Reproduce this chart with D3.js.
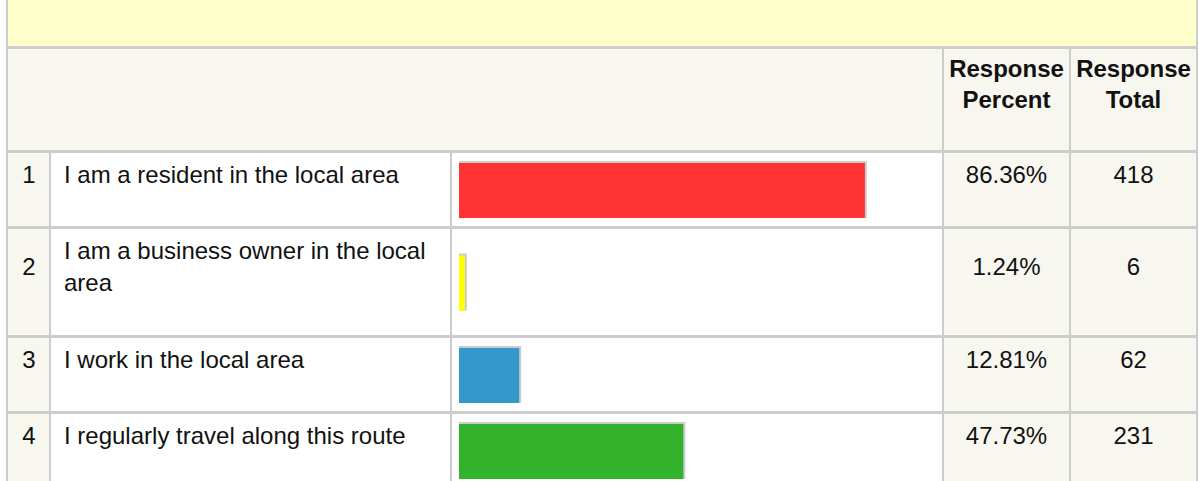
<!DOCTYPE html>
<html>
<head>
<meta charset="utf-8">
<script src="https://cdn.jsdelivr.net/npm/d3@7"></script>
<style>
  body { margin: 0; background: #fff; }
  text { font-family: Arial, "Liberation Sans", sans-serif; fill: #111; }
</style>
</head>
<body>
<div id="chart-container"></div>
<script>
const ids = [1, 2, 3, 4];
const answers = [
  "I am a resident in the local area",
  "I am a business owner in the local area",
  "I work in the local area",
  "I regularly travel along this route",
];
const percents = [86.36, 1.24, 12.81, 47.73];
const totals = [418, 6, 62, 231];
const barColors = ["#ff3333", "#ffff00", "#3399cc", "#33b32c"];
const headerPercent = ["Response", "Percent"];
const headerTotal = ["Response", "Total"];

const width = 1199;
const height = 481;
const border = "#cccccc";
const beige = "#f7f7f0";
const fontSize = 24;

// x of each 2px vertical grid line
const cols = { left: 6, num: 49, text: 450, bar: 942, pct: 1069, right: 1196 };

const svg = d3
  .select("#chart-container")
  .append("svg")
  .attr("width", width)
  .attr("height", height);

const x = d3.scaleLinear().domain([0, 100]).range([0, 470]);

// grid colour behind everything, cells are drawn on top
svg
  .append("rect")
  .attr("x", cols.left)
  .attr("y", 0)
  .attr("width", cols.right + 2 - cols.left)
  .attr("height", height)
  .attr("fill", border);

// yellow title band
svg
  .append("rect")
  .attr("x", cols.left + 2)
  .attr("y", 0)
  .attr("width", cols.right - cols.left - 2)
  .attr("height", 46)
  .attr("fill", "#ffffcc");

// header row
const headTop = 49;
const headBottom = 150;
[
  [cols.left + 2, cols.bar],
  [cols.bar + 2, cols.pct],
  [cols.pct + 2, cols.right],
].forEach(([x0, x1]) => {
  svg
    .append("rect")
    .attr("x", x0)
    .attr("y", headTop)
    .attr("width", x1 - x0)
    .attr("height", headBottom - headTop)
    .attr("fill", beige);
});

const headerText = (lines, cx) => {
  const t = svg
    .append("text")
    .attr("text-anchor", "middle")
    .style("font-size", fontSize + "px")
    .style("font-weight", "bold");
  lines.forEach((l, i) => {
    t.append("tspan")
      .attr("x", cx)
      .attr("y", headTop + 28 + i * 31)
      .text(l);
  });
};
headerText(headerPercent, (cols.bar + 2 + cols.pct) / 2);
headerText(headerTotal, (cols.pct + 2 + cols.right) / 2);

// wrap answer text into lines that fit the text column
const measure = svg.append("text").style("font-size", fontSize + "px");
const wrapWidth = cols.text - 64 - 8;
const wrapped = answers.map((a) => {
  const words = a.split(" ");
  const lines = [];
  let cur = "";
  words.forEach((w) => {
    const test = cur ? cur + " " + w : w;
    measure.text(test);
    if (measure.node().getComputedTextLength() > wrapWidth && cur) {
      lines.push(cur);
      cur = w;
    } else {
      cur = test;
    }
  });
  lines.push(cur);
  return lines;
});
measure.remove();

let rowTop = headBottom + 3;
ids.forEach((id, i) => {
  const lines = wrapped[i];
  const rowH = 73 + 33 * (lines.length - 1);
  const g = svg.append("g");

  const cells = [
    [cols.left + 2, cols.num, beige],
    [cols.num + 2, cols.text, "#ffffff"],
    [cols.text + 2, cols.bar, "#ffffff"],
    [cols.bar + 2, cols.pct, beige],
    [cols.pct + 2, cols.right, beige],
  ];
  cells.forEach(([x0, x1, fill]) => {
    g.append("rect")
      .attr("x", x0)
      .attr("y", rowTop)
      .attr("width", x1 - x0)
      .attr("height", rowH)
      .attr("fill", fill);
  });

  const midY = rowTop + 30 + (lines.length - 1) * 16;

  g.append("text")
    .attr("x", (cols.left + 2 + cols.num) / 2 + 0.5)
    .attr("y", midY)
    .attr("text-anchor", "middle")
    .style("font-size", fontSize + "px")
    .text(id);

  const t = g.append("text").style("font-size", fontSize + "px");
  lines.forEach((l, j) => {
    t.append("tspan")
      .attr("x", 64)
      .attr("y", rowTop + 30 + j * 32)
      .text(l);
  });

  // bar with grey top/right edge
  const barH = 57;
  const barTop = rowTop + (rowH - barH) / 2;
  g.append("rect")
    .attr("x", 459)
    .attr("y", barTop)
    .attr("width", x(percents[i]) + 2)
    .attr("height", barH)
    .attr("fill", border);
  g.append("rect")
    .attr("x", 459)
    .attr("y", barTop + 2)
    .attr("width", x(percents[i]))
    .attr("height", barH - 2)
    .attr("fill", barColors[i]);

  g.append("text")
    .attr("x", (cols.bar + 2 + cols.pct) / 2)
    .attr("y", midY)
    .attr("text-anchor", "middle")
    .style("font-size", fontSize + "px")
    .text(percents[i].toFixed(2) + "%");

  g.append("text")
    .attr("x", (cols.pct + 2 + cols.right) / 2)
    .attr("y", midY)
    .attr("text-anchor", "middle")
    .style("font-size", fontSize + "px")
    .text(totals[i]);

  rowTop += rowH + 3;
});
</script>
</body>
</html>
